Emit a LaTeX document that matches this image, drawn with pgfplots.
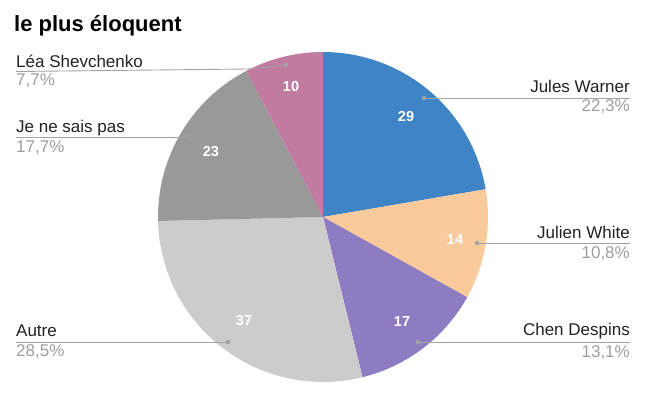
\documentclass[border=0pt]{standalone}
\usepackage{fontspec}
\setmainfont{Liberation Sans}
\usepackage{pgfplots}
\pgfplotsset{compat=1.18}
\definecolor{cJules}{HTML}{3E84C7}
\definecolor{cJulien}{HTML}{F9CB9C}
\definecolor{cChen}{HTML}{8E7CC3}
\definecolor{cAutre}{HTML}{CCCCCC}
\definecolor{cJe}{HTML}{999999}
\definecolor{cLea}{HTML}{C27BA0}
\definecolor{lineg}{HTML}{A3A3A3}
\definecolor{pctg}{HTML}{9E9E9E}
\definecolor{namec}{HTML}{222222}
% slice: #1 = sum of values before, #2 = value, #3 = colour (total 130)
\newcommand{\slice}[3]{%
  \pgfmathsetmacro\aS{90-(#1)/130*360}%
  \pgfmathsetmacro\aE{90-(#1+#2)/130*360}%
  \addplot[fill=#3, draw=none, domain=\aE:\aS, samples=80]
    ({323+165*cos(x)},{217-165*sin(x)}) -- (axis cs:323,217) -- cycle;
}
\begin{document}
\begin{tikzpicture}
\begin{axis}[
  width=648pt, height=397pt, scale only axis,
  xmin=0, xmax=648, ymin=0, ymax=397, y dir=reverse,
  axis lines=none, clip=false,
]
\path (axis cs:0,0) rectangle (axis cs:648,397);
% values: Jules Warner 29, Julien White 14, Chen Despins 17, Autre 37, Je ne sais pas 23, Léa Shevchenko 10
\slice{0}{29}{cJules}
\slice{29}{14}{cJulien}
\slice{43}{17}{cChen}
\slice{60}{37}{cAutre}
\slice{97}{23}{cJe}
\slice{120}{10}{cLea}
% leader lines
\addplot[lineg, line width=0.9pt] coordinates {(424,98) (630,98)};
\addplot[lineg, line width=0.9pt] coordinates {(477,243) (630,243)};
\addplot[lineg, line width=0.9pt] coordinates {(418,342) (630,342)};
\addplot[lineg, line width=0.9pt] coordinates {(228,342) (16,342)};
\addplot[lineg, line width=0.9pt] coordinates {(187,137) (16,137)};
\addplot[lineg, line width=0.9pt] coordinates {(286,65) (248,69) (16,71.5)};
\addplot[only marks, mark=*, mark size=2pt, color=lineg] coordinates {(424,98) (477,243) (418,342) (228,342) (187,137) (286,65)};
% values in slices
\begin{scope}[every node/.style={font=\fontsize{14.5}{16}\selectfont\bfseries, text=white}]
\node at (axis cs:406,117) {29};
\node at (axis cs:455,240) {14};
\node at (axis cs:402,322) {17};
\node at (axis cs:244,321) {37};
\node at (axis cs:211,152) {23};
\node at (axis cs:291,87) {10};
\end{scope}
% names
\begin{scope}[every node/.style={font=\fontsize{17}{19}\selectfont, text=namec, inner sep=0pt}]
\node[anchor=east] at (axis cs:630,86) {Jules Warner};
\node[anchor=east] at (axis cs:630,232) {Julien White};
\node[anchor=east] at (axis cs:630,331) {Chen Despins};
\node[anchor=west] at (axis cs:16,331) {Autre};
\node[anchor=west] at (axis cs:16,128) {Je ne sais pas};
\node[anchor=west] at (axis cs:16,61) {Léa Shevchenko};
\end{scope}
\begin{scope}[every node/.style={font=\fontsize{17}{19}\selectfont, text=pctg, inner sep=0pt}]
\node[anchor=east] at (axis cs:630,107) {22,3\%};
\node[anchor=east] at (axis cs:630,254) {10,8\%};
\node[anchor=east] at (axis cs:630,353) {13,1\%};
\node[anchor=west] at (axis cs:16,352) {28,5\%};
\node[anchor=west] at (axis cs:16,148) {17,7\%};
\node[anchor=west] at (axis cs:16,81) {7,7\%};
\end{scope}
\node[anchor=west, inner sep=0pt, font=\fontsize{22}{24}\selectfont\bfseries, text=black] at (axis cs:14,26) {le plus éloquent};
\end{axis}
\end{tikzpicture}
\end{document}
